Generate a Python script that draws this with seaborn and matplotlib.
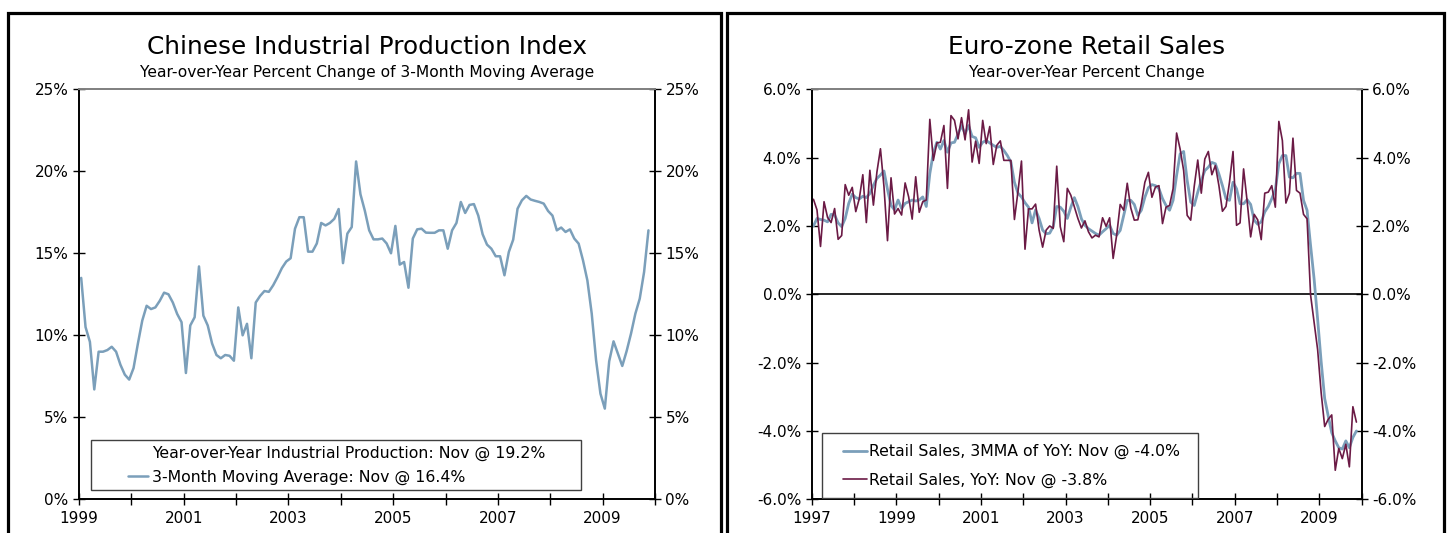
import numpy as np
import pandas as pd
import matplotlib
matplotlib.use("Agg")
import matplotlib.pyplot as plt
import seaborn as sns
from matplotlib.lines import Line2D
from matplotlib.patches import Rectangle
from matplotlib.ticker import FuncFormatter, MultipleLocator, FixedLocator

# ---------------- data ----------------
# Chinese industrial production, YoY % change of 3-month moving average, Jan 1999 - Nov 2009
china_start = "1999-01-01"
china_ip_3mma = [
    13.5, 10.5, 9.6, 6.7, 9.0, 9.0, 9.1, 9.3, 9.0, 8.2, 7.6, 7.3,
    8.0, 9.5, 10.9, 11.8, 11.6, 11.7, 12.1, 12.6, 12.5, 12.0, 11.3, 10.8,
    7.7, 10.6, 11.1, 14.2, 11.2, 10.6, 9.5, 8.8, 8.6, 8.8, 8.75, 8.45,
    11.7, 10.0, 10.7, 8.6, 12.0, 12.4, 12.7, 12.65, 13.05, 13.55, 14.1, 14.5,
    14.7, 16.5, 17.2, 17.2, 15.1, 15.1, 15.6, 16.85, 16.7, 16.85, 17.1, 17.7,
    14.4, 16.2, 16.6, 20.6, 18.6, 17.6, 16.4, 15.85, 15.85, 15.9, 15.6, 15.0,
    16.67, 14.31, 14.47, 12.9, 15.9, 16.46, 16.5, 16.26, 16.25, 16.25, 16.4, 16.4,
    15.28, 16.4, 16.85, 18.13, 17.46, 17.95, 18.0, 17.3, 16.16, 15.53, 15.28, 14.82,
    14.82, 13.66, 15.08, 15.83, 17.72, 18.23, 18.5, 18.28, 18.2, 18.13, 18.03, 17.58,
    17.3, 16.4, 16.57, 16.3, 16.46, 15.9, 15.59, 14.57, 13.35, 11.32, 8.48, 6.44,
    5.53, 8.41, 9.63, 8.88, 8.13, 9.04, 10.1, 11.32, 12.23, 13.86, 16.4,
]

# Euro-zone retail sales, Jan 1997 - Nov 2009
euro_start = "1997-01-01"
euro_retail_3mma = [
    2.0, 2.22, 2.19, 2.17, 2.12, 2.34, 2.32, 2.09, 1.98, 2.22, 2.66, 2.93,
    2.83, 2.79, 2.87, 2.83, 2.95, 3.19, 3.39, 3.49, 3.61, 3.07, 2.6, 2.47,
    2.76, 2.51, 2.66, 2.71, 2.76, 2.73, 2.76, 2.85, 2.57, 3.53, 4.14, 4.45,
    4.25, 4.5, 4.16, 4.43, 4.45, 4.69, 4.94, 4.69, 4.94, 4.62, 4.58, 4.3,
    4.45, 4.5, 4.43, 4.36, 4.3, 4.33, 4.21, 4.06, 3.87, 3.28, 2.96, 2.85,
    2.68, 2.55, 2.09, 2.47, 2.22, 1.88, 1.77, 1.79, 1.98, 2.57, 2.55, 2.43,
    2.22, 2.55, 2.83, 2.57,
    2.21, 2.02, 1.92, 1.85, 1.78, 1.73, 1.83, 1.92, 2.02, 1.78, 1.73, 1.87,
    2.31, 2.75, 2.75, 2.63, 2.31, 2.46, 2.84, 3.12, 3.21, 3.18, 3.09, 2.8,
    2.6, 2.46, 2.75, 3.48, 4.11, 4.18, 3.33, 2.7, 2.6, 2.99, 3.33, 3.62,
    3.72, 3.86, 3.82, 3.52, 3.18, 2.8, 2.75, 3.28, 3.09, 2.65, 2.65, 2.77,
    2.63, 2.17, 2.05, 2.12, 2.41, 2.57, 2.8, 3.06, 3.82, 4.06, 4.06, 3.43,
    3.41, 3.54, 3.54, 2.75, 2.46,
    1.43, 0.45, -0.73, -1.97, -3.05,
    -3.56, -4.05, -4.29, -4.49, -4.53, -4.29, -4.49, -4.19, -4.0,
]
euro_retail_yoy = [
    2.78, 2.47, 1.40, 2.71, 2.25, 2.1, 2.51, 1.61, 1.72, 3.21, 2.9, 3.13,
    2.42, 2.8, 3.5, 2.1, 3.63, 2.61, 3.58, 4.26, 3.15, 1.57, 3.41, 2.35,
    2.51, 2.32, 3.26, 2.85, 2.2, 3.44, 2.4, 2.71, 2.76, 5.12, 3.92, 4.43,
    4.45, 4.94, 3.1, 5.23, 5.09, 4.55, 5.17, 4.52, 5.4, 3.87, 4.48, 3.83,
    5.09, 4.41, 4.91, 3.8, 4.36, 4.49, 3.92, 3.92, 3.92, 2.19, 3.0, 3.9,
    1.32, 2.5, 2.5, 2.64, 1.88, 1.38, 1.88, 2.0, 1.93, 3.75, 1.98, 1.54,
    3.1, 2.9, 2.56, 2.22,
    1.94, 2.15, 1.83, 1.65, 1.73, 1.68, 2.24, 1.99, 2.24, 1.05, 1.73, 2.63,
    2.46, 3.25, 2.53, 2.17, 2.18, 2.65, 3.28, 3.57, 2.84, 3.14, 3.18, 2.07,
    2.55, 2.6, 3.09, 4.72, 4.25, 3.62, 2.31, 2.17, 3.16, 3.93, 2.96, 3.96,
    4.18, 3.5, 3.77, 3.18, 2.43, 2.57, 3.28, 4.18, 2.02, 2.09, 3.67, 2.73,
    1.68, 2.34, 2.18, 1.6, 2.96, 2.99, 3.18, 2.55, 5.06, 4.5, 2.67, 2.96,
    4.57, 3.04, 2.96, 2.34, 2.21,
    -0.02, -0.82, -1.62, -2.88, -3.87,
    -3.66, -3.53, -5.15, -4.51, -4.81, -4.39, -5.05, -3.29, -3.74,
]

left_title = "Chinese Industrial Production Index"
left_subtitle = "Year-over-Year Percent Change of 3-Month Moving Average"
left_labels = ["Year-over-Year Industrial Production: Nov @ 19.2%",
               "3-Month Moving Average: Nov @ 16.4%"]
right_title = "Euro-zone Retail Sales"
right_subtitle = "Year-over-Year Percent Change"
right_labels = ["Retail Sales, 3MMA of YoY: Nov @ -4.0%",
                "Retail Sales, YoY: Nov @ -3.8%"]

left_years = list(range(1999, 2011))
left_year_labels = list(range(1999, 2011, 2))
right_years = list(range(1997, 2011))
right_year_labels = list(range(1997, 2011, 2))

BLUE = "#7b9fba"
MAROON = "#6b1a45"


def decimal_years(start, n):
    d = pd.date_range(start, periods=n, freq="MS")
    return np.asarray(d.year + (d.month - 1) / 12.0 + 1.0 / 24.0)


china_df = pd.DataFrame({"year": decimal_years(china_start, len(china_ip_3mma)),
                         "value": china_ip_3mma})
euro_df = pd.DataFrame({"year": decimal_years(euro_start, len(euro_retail_yoy)),
                        "mma": euro_retail_3mma,
                        "yoy": euro_retail_yoy})

# ---------------- style ----------------
sns.set_style("white")
plt.rcParams["font.family"] = ["DejaVu Sans"]
plt.rcParams["text.color"] = "black"
plt.rcParams["xtick.color"] = "black"
plt.rcParams["ytick.color"] = "black"
plt.rcParams["xtick.labelcolor"] = "black"
plt.rcParams["ytick.labelcolor"] = "black"

W, H = 1448, 533
fig = plt.figure(figsize=(W / 100, H / 100), dpi=100)

TICK_FS = 11
LEG_FS = 11.3
TITLE_FS = 17.8
SUB_FS = 11.2


def px_axes(x0, y0, x1, y1):
    return fig.add_axes([x0 / W, 1 - y1 / H, (x1 - x0) / W, (y1 - y0) / H])


def style_axes(ax, years, labels_years, ylo, yhi, ystep, fmt):
    ax.set_xlim(years[0], years[-1])
    ax.set_ylim(ylo, yhi)
    ax.xaxis.set_major_locator(FixedLocator(labels_years))
    ax.xaxis.set_minor_locator(FixedLocator(years))
    ax.xaxis.set_major_formatter(FuncFormatter(lambda v, p: f"{int(round(v))}"))
    ax.yaxis.set_major_locator(MultipleLocator(ystep))
    ax.yaxis.set_major_formatter(FuncFormatter(fmt))
    ax.tick_params(axis="x", which="both", direction="inout", length=9, width=1,
                   color="black", labelcolor="black", labelsize=TICK_FS, pad=4,
                   bottom=True, top=False)
    ax.tick_params(axis="y", which="both", direction="inout", length=9, width=1,
                   color="black", labelcolor="black", labelsize=TICK_FS, pad=3,
                   left=True, right=True, labelleft=True, labelright=True)
    ax.set_xlabel("")
    ax.set_ylabel("")
    for side in ["left", "bottom", "right"]:
        ax.spines[side].set_color("black")
        ax.spines[side].set_linewidth(1.4)
        ax.spines[side].set_visible(True)
    ax.spines["top"].set_visible(True)
    ax.spines["top"].set_color("#7f7f7f")
    ax.spines["top"].set_linewidth(1.4)
    ax.grid(False)


# panel borders
for (x0, x1) in [(8, 721), (727, 1444)]:
    fig.add_artist(Rectangle((x0 / W, -0.05), (x1 - x0) / W, 1 - 13 / H + 0.05,
                             transform=fig.transFigure, fill=False,
                             edgecolor="black", linewidth=2.3, clip_on=False))

# ---------------- left chart ----------------
axL = px_axes(79, 89.3, 655, 499.3)
sns.lineplot(data=china_df, x="year", y="value", ax=axL, color=BLUE,
             linewidth=1.8, legend=False)
style_axes(axL, left_years, left_year_labels, 0, 25, 5, lambda v, p: f"{v:.0f}%")

axL.add_patch(Rectangle(((91 - 79) / 576, (499.3 - 490) / 410), 490 / 576, 50 / 410,
                        transform=axL.transAxes, fill=False, edgecolor="#404040",
                        linewidth=1.0, zorder=5))
hL = [Line2D([], [], color="none"), Line2D([], [], color=BLUE, linewidth=1.8)]
legL = axL.legend(hL, left_labels, loc="center left",
                  bbox_to_anchor=((128 - 79) / 576, (499.3 - 465.5) / 410),
                  frameon=False, fontsize=LEG_FS, handlelength=1.27, handletextpad=0.25,
                  labelspacing=0.52, borderpad=0, borderaxespad=0, labelcolor="black")

fig.text(367 / W, 1 - 47 / H, left_title, ha="center", va="center",
         fontsize=TITLE_FS, color="black")
fig.text(367 / W, 1 - 72 / H, left_subtitle, ha="center", va="center",
         fontsize=SUB_FS, color="black")

# ---------------- right chart ----------------
axR = px_axes(811.7, 89.3, 1361.7, 499.3)
axR.axhline(0, color="black", linewidth=1.2, zorder=1)
sns.lineplot(data=euro_df, x="year", y="mma", ax=axR, color=BLUE,
             linewidth=2.0, legend=False)
sns.lineplot(data=euro_df, x="year", y="yoy", ax=axR, color=MAROON,
             linewidth=1.2, legend=False)
style_axes(axR, right_years, right_year_labels, -6, 6, 2, lambda v, p: f"{v:.1f}%")

axR.add_patch(Rectangle(((822 - 811.7) / 550, (499.3 - 498) / 410), 376 / 550, 65 / 410,
                        transform=axR.transAxes, fill=False, edgecolor="#404040",
                        linewidth=1.0, zorder=5))
hR = [Line2D([], [], color=BLUE, linewidth=2.0), Line2D([], [], color=MAROON, linewidth=1.2)]
legR = axR.legend(hR, right_labels, loc="center left",
                  bbox_to_anchor=((843 - 811.7) / 550, (499.3 - 465.9) / 410),
                  frameon=False, fontsize=LEG_FS, handlelength=1.53, handletextpad=0.1,
                  labelspacing=0.82, borderpad=0, borderaxespad=0, labelcolor="black")

fig.text(1086.7 / W, 1 - 47 / H, right_title, ha="center", va="center",
         fontsize=TITLE_FS, color="black")
fig.text(1086.7 / W, 1 - 72 / H, right_subtitle, ha="center", va="center",
         fontsize=SUB_FS, color="black")

fig.savefig("out.png", dpi=100, facecolor="white")
